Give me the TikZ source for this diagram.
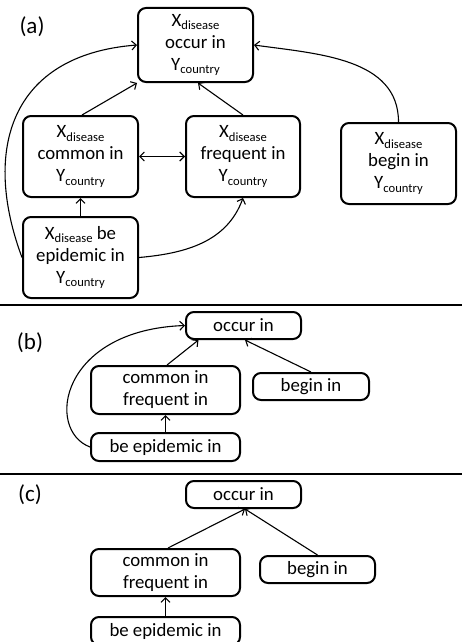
\documentclass[tikz,border=0pt]{standalone}
\usepackage{fontspec}
\setmainfont{Carlito}
\usetikzlibrary{arrows.meta}
\newcommand{\subtxt}[1]{\raisebox{-0.35ex}{\fontsize{12.6}{13}\selectfont #1}}
\newcommand{\Xd}{X\subtxt{disease}}
\newcommand{\Yc}{Y\subtxt{country}}
\tikzset{
  rel/box/.style={
    draw=black,
    line width=2pt,
    rounded corners=8pt,
    fill=white,
    align=center,
    inner sep=0pt,
    font=\fontsize{18.8}{22}\selectfont
  },
  rel/arrow/.style={-{Straight Barb[length=4.5pt,width=9pt]}, line width=1.1pt},
  rel/twoway/.style={{Straight Barb[length=4.5pt,width=9pt]}-{Straight Barb[length=4.5pt,width=9pt]}, line width=1.1pt},
  rel/tag/.style={font=\fontsize{23}{26}\selectfont, inner sep=0pt},
  rel/rule/.style={line width=1.4pt}
}

\begin{document}
\begin{tikzpicture}[x=1pt,y=-1pt]
  \clip (0,0) rectangle (462,642);
  \fill[white] (0,0) rectangle (462,642);

  % (a) full patterns
  \node[rel/tag] (tagA) at (32,27) {(a)};
  \node[rel/box,minimum width=115pt,minimum height=74pt] (occA) at (195.5,45) {\Xd\\occur in\\\Yc};
  \node[rel/box,minimum width=115pt,minimum height=81pt] (comA) at (80.5,156.5) {\Xd\\common in\\\Yc};
  \node[rel/box,minimum width=114pt,minimum height=81pt] (freA) at (243,156.5) {\Xd\\frequent in\\\Yc};
  \node[rel/box,minimum width=115pt,minimum height=81pt] (begA) at (398.5,163.5) {\Xd\\begin in\\\Yc};
  \node[rel/box,minimum width=115pt,minimum height=81pt] (epiA) at (80.5,257.5) {\Xd{} be\\epidemic in\\\Yc};

  \draw[rel/arrow] ([xshift=1.5pt]comA.north) -- (occA.south west);
  \draw[rel/arrow] (freA.north) -- ([xshift=2.5pt]occA.south);
  \draw[rel/arrow] (begA.north) to[out=90,in=-8] (occA.east);
  \draw[rel/twoway] (comA.east) -- (freA.west);
  \draw[rel/arrow] (epiA.north) -- (comA.south);
  \draw[rel/arrow] (epiA.east) to[out=5,in=-110] (freA.south);
  \draw[rel/arrow] (epiA.west) .. controls (-18,150) and (10,55) .. (occA.west);

  \draw[rel/rule] (0,305) -- (462,305);

  % (b) merged synonyms
  \node[rel/tag] (tagB) at (30,343) {(b)};
  \node[rel/box,minimum width=115pt,minimum height=27pt] (occB) at (243.5,325.5) {occur in};
  \node[rel/box,minimum width=149pt,minimum height=48pt] (comB) at (165.5,390) {common in\\frequent in};
  \node[rel/box,minimum width=116pt,minimum height=27pt] (begB) at (311,386.5) {begin in};
  \node[rel/box,minimum width=149pt,minimum height=28pt] (epiB) at (165.5,447) {be epidemic in};

  \draw[rel/arrow] ([xshift=1.5pt]comB.north) -- ([xshift=-45pt]occB.south);
  \draw[rel/arrow] (begB.north) -- ([xshift=1.5pt]occB.south);
  \draw[rel/arrow] (epiB.north) -- (comB.south);
  \draw[rel/arrow] (epiB.west) .. controls (45,430) and (60,330) .. (occB.west);

  \draw[rel/rule] (0,474) -- (462,474);

  % (c) transitive reduction
  \node[rel/tag] (tagC) at (30,495) {(c)};
  \node[rel/box,minimum width=115pt,minimum height=27pt] (occC) at (243.5,494.5) {occur in};
  \node[rel/box,minimum width=149pt,minimum height=47pt] (comC) at (165.5,572.5) {common in\\frequent in};
  \node[rel/box,minimum width=115pt,minimum height=27pt] (begC) at (317.5,569.5) {begin in};
  \node[rel/box,minimum width=149pt,minimum height=28pt] (epiC) at (165.5,631) {be epidemic in};

  \draw[rel/arrow] ([xshift=2.5pt]comC.north) -- ([xshift=1.5pt]occC.south);
  \draw[rel/arrow] (begC.north) -- ([xshift=1.5pt]occC.south);
  \draw[rel/arrow] (epiC.north) -- (comC.south);
\end{tikzpicture}
\end{document}
